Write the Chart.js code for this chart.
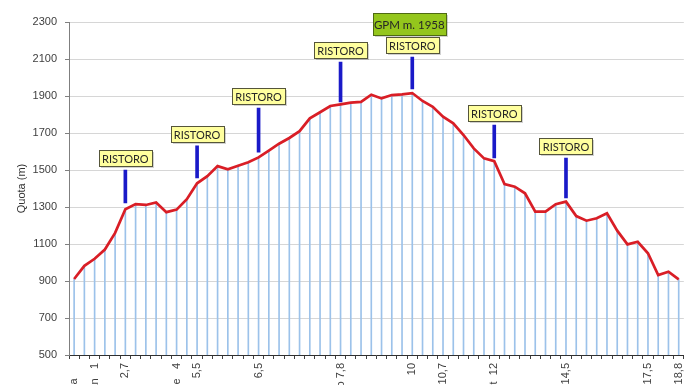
<!DOCTYPE html>
<html><head><meta charset="utf-8">
<script src="https://cdn.jsdelivr.net/npm/chart.js@4.4.0/dist/chart.umd.min.js"></script>
<style>html,body{margin:0;padding:0;background:#fff;overflow:hidden}canvas{display:block}</style>
</head><body>
<canvas id="c" width="696" height="385"></canvas>
<script>
// ---- data ----
const categories = [
  'Partenza\u00a0\u00a0\u00a0\u00a0\u00a0','','Pian\u00a0\u00a0\u00a01','','','2,7','','','','',
  'Fontane\u00a0\u00a0\u00a04','','5,5','','','','','','6,5','',
  '','','','','','','Rifugio 7,8','','','',
  '','','','10','','','10,7','','','',
  '','Bivio Est\u00a0\u00a012','','','','','','','14,5','',
  '','','','','','','17,5','','','18,8'
];
const elevation = [
  911, 982, 1020, 1070, 1160, 1288, 1316, 1311, 1324, 1272,
  1286, 1342, 1428, 1467, 1521, 1504, 1523, 1542, 1568, 1605,
  1642, 1673, 1710, 1779, 1812, 1846, 1855, 1864, 1868, 1907,
  1887, 1905, 1909, 1916, 1873, 1842, 1788, 1752, 1689, 1617,
  1563, 1548, 1424, 1410, 1374, 1275, 1275, 1315, 1329, 1251,
  1226, 1239, 1266, 1172, 1098, 1112, 1050, 932, 950, 909
];
const ristoroIdx    = [5, 12, 18, 26, 33, 41, 48];
const ristoroTop    = [1500, 1630, 1835, 2084, 2111, 1743, 1565];
const ristoroBottom = [1322, 1457, 1597, 1868, 1938, 1565, 1349];
const ristoroText = 'RISTORO';
const gpmIdx = 33;
const gpmText = 'GPM m. 1958';
const yMin = 500, yMax = 2300, yStep = 200;
const yTitle = 'Quota (m)';

// ---- derived ----
const markerData = categories.map((_, i) => {
  const k = ristoroIdx.indexOf(i);
  return k < 0 ? null : [ristoroBottom[k], ristoroTop[k]];
});

function drawBox(ctx, cx, bottom, w, h, text, fill, stroke, font) {
  const l = Math.round(cx - w / 2) + 0.5, t = Math.round(bottom - h) + 0.5;
  ctx.fillStyle = 'rgba(0,0,0,0.18)';
  ctx.fillRect(l + 1.5, t + 1.5, w, h);
  ctx.fillStyle = fill;
  ctx.fillRect(l, t, w, h);
  ctx.strokeStyle = stroke;
  ctx.lineWidth = 1;
  ctx.strokeRect(l, t, w, h);
  ctx.fillStyle = '#262626';
  ctx.font = font;
  ctx.textAlign = 'center';
  ctx.textBaseline = 'middle';
  ctx.fillText(text, cx, t + h / 2 + 0.5);
}

const boxPlugin = {
  id: 'ristoroBoxes',
  afterDatasetsDraw(chart) {
    const {ctx, scales: {x, y}} = chart;
    ctx.save();
    ristoroIdx.forEach((idx, k) => {
      const cx = x.getPixelForValue(idx);
      const top = y.getPixelForValue(ristoroTop[k]);
      const bBottom = top - 4;
      drawBox(ctx, cx, bBottom, 53, 16, ristoroText, '#ffff9e', '#55553a', '11px Lato');
      if (idx === gpmIdx) {
        drawBox(ctx, cx - 3, bBottom - 18, 73, 22, gpmText, '#94c61c', '#4e6a12', '11.5px Lato');
      }
    });
    ctx.restore();
  }
};

Chart.defaults.font.family = "'Liberation Sans', Arial, sans-serif";
Chart.defaults.font.size = 11;
Chart.defaults.color = '#404040';

new Chart(document.getElementById('c'), {
  type: 'line',
  data: {
    labels: categories,
    datasets: [
      {
        type: 'line', data: elevation, order: 0,
        borderColor: '#d91e26', borderWidth: 2.7, pointRadius: 0, tension: 0, fill: false
      },
      {
        type: 'bar', data: elevation, order: 2, grouped: false,
        backgroundColor: '#9cc2ea', barThickness: 1
      },
      {
        type: 'bar', data: markerData, order: 1, grouped: false,
        backgroundColor: '#1a1ac8', barThickness: 3
      }
    ]
  },
  options: {
    responsive: false,
    animation: false,
    layout: {padding: {top: 22, right: 11, left: 0, bottom: 0}},
    plugins: {legend: {display: false}, tooltip: {enabled: false}},
    scales: {
      x: {
        type: 'category',
        offset: true,
        grid: {display: true, drawOnChartArea: false, offset: true, tickLength: 4, tickColor: '#404040'},
        border: {display: true, color: '#303030', width: 1},
        ticks: {autoSkip: false, maxRotation: 90, minRotation: 90, padding: 4, color: '#404040', font: {size: 11}},
        afterFit(s) { s.height = 30; }
      },
      y: {
        min: yMin, max: yMax,
        ticks: {stepSize: yStep, padding: 8, color: '#404040', font: {size: 11}, callback: v => String(v)},
        grid: {color: '#d6d6d6', tickLength: 4, tickColor: '#808080'},
        border: {display: true, color: '#7f7f7f', width: 1},
        title: {display: true, text: yTitle, color: '#333', font: {size: 11}, padding: {top: 15, bottom: 0}},
        afterFit(s) { s.width = 69; }
      }
    }
  },
  plugins: [boxPlugin]
});
</script>
</body></html>
